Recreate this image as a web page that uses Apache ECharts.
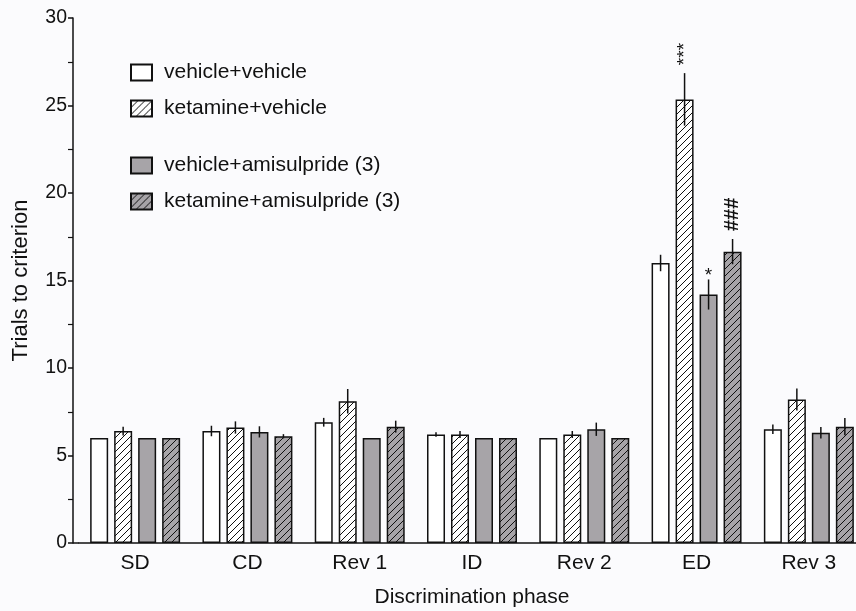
<!DOCTYPE html>
<html>
<head>
<meta charset="utf-8">
<script src="https://cdn.jsdelivr.net/npm/echarts@6/dist/echarts.min.js"></script>
<style>
html,body{margin:0;padding:0;background:#fbfbfd;overflow:hidden;}
#chart{width:856px;height:611px;}
</style>
</head>
<body>
<div id="chart"></div>
<script>
// ---- data ----
const categories = ['SD', 'CD', 'Rev 1', 'ID', 'Rev 2', 'ED', 'Rev 3'];
const seriesNames = ['vehicle+vehicle', 'ketamine+vehicle', 'vehicle+amisulpride (3)', 'ketamine+amisulpride (3)'];
const vehVeh    = [6.0, 6.4, 6.9, 6.2, 6.0, 16.0, 6.5];
const vehVehErr = [0, 0.3, 0.25, 0.13, 0, 0.47, 0.27];
const ketVeh    = [6.4, 6.6, 8.1, 6.2, 6.2, 25.35, 8.2];
const ketVehErr = [0.25, 0.35, 0.7, 0.2, 0.2, 1.5, 0.63];
const vehAmi    = [6.0, 6.35, 6.0, 6.0, 6.5, 14.2, 6.3];
const vehAmiErr = [0, 0.32, 0, 0, 0.38, 0.86, 0.33];
const ketAmi    = [6.0, 6.1, 6.65, 6.0, 6.0, 16.65, 6.65];
const ketAmiErr = [0, 0.12, 0.34, 0, 0, 0.72, 0.49];
const vehVehNote = ['', '', '', '', '', '', ''];
const ketVehNote = ['', '', '', '', '', '***', ''];
const vehAmiNote = ['', '', '', '', '', '*', ''];
const ketAmiNote = ['', '', '', '', '', '###', ''];
const yTicks = [0, 5, 10, 15, 20, 25, 30];

// ---- styling ----
const FONT = 'Liberation Sans, Arial, sans-serif';
const INK = '#111';
const GRAY = '#a7a4a8';
const BAR_W = 18;
const BAR_STEP = 24;
const GRID_LEFT = 79, Y_OFFSET = 6;

function hatch(bg) {
  const c = document.createElement('canvas');
  c.width = 7; c.height = 7;
  const g = c.getContext('2d');
  g.fillStyle = bg; g.fillRect(0, 0, 7, 7);
  g.strokeStyle = INK; g.lineWidth = 1;
  g.beginPath();
  g.moveTo(-1, 8); g.lineTo(8, -1);
  g.moveTo(-1, 1); g.lineTo(1, -1);
  g.moveTo(6, 8); g.lineTo(8, 6);
  g.stroke();
  return c;
}

const values = [vehVeh, ketVeh, vehAmi, ketAmi];
const errs = [vehVehErr, ketVehErr, vehAmiErr, ketAmiErr];
const notes = [vehVehNote, ketVehNote, vehAmiNote, ketAmiNote];
const fills = ['#ffffff', {image: hatch('#ffffff'), repeat: 'repeat'}, GRAY, {image: hatch(GRAY), repeat: 'repeat'}];

const errData = [];
const errNotes = [];
for (let s = 0; s < 4; s++) {
  for (let i = 0; i < categories.length; i++) {
    errData.push([i, s, values[s][i], errs[s][i]]);
    errNotes.push(notes[s][i]);
  }
}

const barSeries = seriesNames.map((name, s) => ({
  name: name,
  type: 'bar',
  data: values[s],
  barWidth: BAR_W,
  barGap: ((BAR_STEP - BAR_W) / BAR_W * 100).toFixed(1) + '%',
  itemStyle: {color: fills[s], borderColor: INK, borderWidth: 1.5},
  emphasis: {disabled: true},
  z: 2
}));

const errSeries = {
  type: 'custom',
  z: 5,
  silent: true,
  data: errData,
  renderItem: function (params, api) {
    const ci = api.value(0), si = api.value(1), v = api.value(2), e = api.value(3);
    const c = api.coord([ci, v]);
    const x = c[0] + (si - 1.5) * BAR_STEP;
    const top = api.coord([ci, v + e])[1];
    const bot = api.coord([ci, v - e])[1];
    const children = [];
    if (e > 0) {
      children.push({type: 'line', shape: {x1: x, y1: top, x2: x, y2: bot}, style: {stroke: INK, lineWidth: 1.5}});
    }
    const note = errNotes[params.dataIndex];
    if (note) {
      if (note.length > 1) {
        const isHash = note[0] === '#';
        children.push({type: 'text', x: x, y: top - 8, rotation: Math.PI / 2,
          style: {text: note, align: 'left', verticalAlign: 'middle', fontSize: isHash ? 20 : 19,
                  fontWeight: isHash ? 'bold' : 'normal', fontFamily: FONT, fill: INK}});
      } else {
        children.push({type: 'text', x: x, y: top + 6,
          style: {text: note, align: 'center', verticalAlign: 'bottom', fontSize: 19, fontFamily: FONT, fill: INK}});
      }
    }
    return {type: 'group', children: children};
  }
};

const chart = echarts.init(document.getElementById('chart'), null, {renderer: 'canvas'});
const legendCommon = {
  orient: 'vertical', left: 130, padding: 0, icon: 'rect',
  itemWidth: 21, itemHeight: 16, itemGap: 15,
  textStyle: {fontSize: 21, fontFamily: FONT, color: INK, padding: [0, 0, 0, 7]},
  selectedMode: false
};
chart.setOption({
  backgroundColor: '#fbfbfd',
  animation: false,
  textStyle: {fontFamily: FONT},
  grid: {left: GRID_LEFT, top: 18, width: 786, height: 525, containLabel: false, outerBoundsMode: 'none'},
  legend: [
    Object.assign({}, legendCommon, {top: 62, data: seriesNames.slice(0, 2)}),
    Object.assign({}, legendCommon, {top: 155, data: seriesNames.slice(2, 4)})
  ],
  xAxis: {
    type: 'category',
    data: categories,
    name: 'Discrimination phase',
    nameLocation: 'middle',
    nameGap: 44,
    nameTextStyle: {fontSize: 21, fontFamily: FONT, color: INK},
    axisLine: {lineStyle: {color: INK, width: 1.5}},
    axisTick: {alignWithLabel: true, length: 5, lineStyle: {color: INK, width: 1.5}},
    axisLabel: {fontSize: 21, fontFamily: FONT, color: INK, margin: 10}
  },
  yAxis: {
    type: 'value',
    min: yTicks[0], max: yTicks[yTicks.length - 1], interval: yTicks[1] - yTicks[0],
    offset: Y_OFFSET,
    name: 'Trials to criterion',
    nameLocation: 'middle',
    nameGap: 41,
    nameRotate: 90,
    nameTextStyle: {fontSize: 22, fontFamily: FONT, color: INK},
    axisLine: {show: true, lineStyle: {color: INK, width: 1.5}},
    axisTick: {show: true, length: 5, lineStyle: {color: INK, width: 1.5}},
    minorTick: {show: true, splitNumber: 2, length: 5, lineStyle: {color: INK, width: 1.2}},
    splitLine: {show: false},
    axisLabel: {fontSize: 19.5, fontFamily: FONT, color: INK, margin: 6}
  },
  series: barSeries.concat([errSeries])
});
// extend x axis line to meet the offset y axis
const y0 = chart.convertToPixel({yAxisIndex: 0}, 0);
chart.setOption({graphic: [{type: 'line', shape: {x1: GRID_LEFT - Y_OFFSET, y1: y0, x2: GRID_LEFT, y2: y0}, style: {stroke: INK, lineWidth: 1.5}, z: 10}]});
</script>
</body>
</html>
